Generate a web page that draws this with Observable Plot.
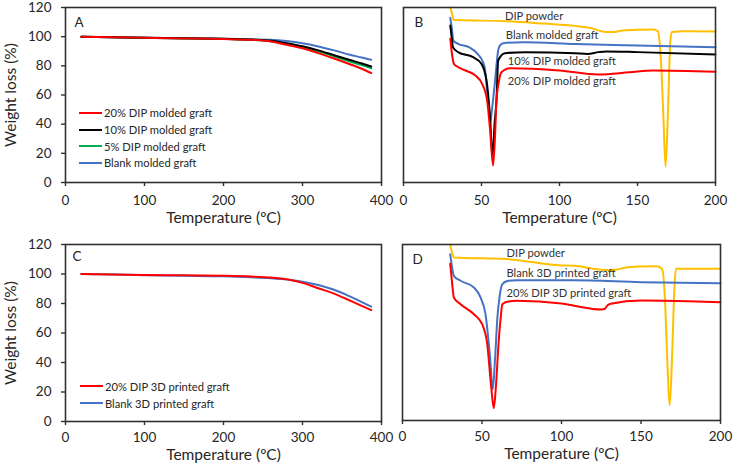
<!DOCTYPE html>
<html>
<head>
<meta charset="utf-8">
<script src="https://cdn.jsdelivr.net/npm/d3@7"></script>
<script src="https://cdn.jsdelivr.net/npm/@observablehq/plot@0.6"></script>
<style>
  body { margin: 0; background: #fff; }
  #wrap { position: relative; width: 734px; height: 468px; font-family: Lato, "Open Sans", sans-serif; overflow: hidden; }
  .panel { position: absolute; }
  .legend { position: absolute; font-family: Lato, sans-serif; font-size: 11.2px; color: #262626; }
  .legend .row { display: flex; align-items: center; white-space: nowrap; }
  .legend .sw { display: inline-block; width: 23px; height: 0; border-top: 2px solid; margin-right: 2px; }
</style>
</head>
<body>
<div id="wrap"></div>
<script>
// ---------- Panel A: TGA, molded grafts ----------
const tgaTempA   = [20, 60, 100, 150, 200, 235, 260, 280, 300, 320, 340, 360, 375, 387];
const tgaA20     = [100, 99.6, 99.2, 98.8, 98.4, 97.8, 96.7, 94.4, 92.0, 88.7, 85.0, 81.1, 78.0, 75.0];
const tgaA10     = [100, 99.6, 99.2, 98.9, 98.5, 98.0, 97.2, 95.5, 93.4, 90.6, 87.3, 84.0, 81.6, 79.5];
const tgaA5      = [100, 99.6, 99.2, 98.8, 98.4, 97.8, 96.9, 95.2, 93.0, 90.0, 86.5, 83.0, 80.5, 78.3];
const tgaABlank  = [100, 99.6, 99.3, 99.0, 98.6, 98.2, 97.9, 97.0, 95.5, 93.3, 90.6, 87.6, 85.7, 84.1];
const namesA     = ["20% DIP molded graft", "10% DIP molded graft", "5% DIP molded graft", "Blank molded graft"];

// ---------- Panel C: TGA, 3D printed grafts ----------
const tgaTempC   = [20, 60, 100, 150, 200, 235, 260, 285, 300, 320, 340, 355, 370, 387];
const tgaC20     = [100, 99.7, 99.4, 99.1, 98.8, 98.3, 97.6, 96.0, 94.0, 90.3, 86.7, 83.2, 79.6, 75.5];
const tgaCBlank  = [100, 99.6, 99.2, 98.8, 98.4, 97.8, 97.2, 96.0, 94.8, 92.6, 89.3, 86.0, 82.3, 77.9];
const namesC     = ["20% DIP 3D printed graft", "Blank 3D printed graft"];

// ---------- Panel B: DSC, molded grafts (heat flow, arbitrary units) ----------
const dscBPowderT = [30, 31, 32, 35, 66, 90, 110, 120, 130, 135, 140, 150, 160, 163, 165, 166.5, 168, 169.5, 171, 172, 180, 200];
const dscBPowderV = [100, 97, 93, 92.8, 92.2, 90.8, 89.5, 88.3, 86.0, 86.0, 86.8, 87.3, 87.4, 86.5, 70, 40, 9, 40, 80, 86.0, 86.4, 86.3];
const dscBBlankT  = [30, 31, 32, 35, 42, 47.5, 50, 52, 53.8, 55, 55.7, 56.5, 58.5, 60.7, 62, 63.9, 77, 110, 150, 200];
const dscBBlankV  = [94, 88, 81.1, 79.2, 77.3, 73.5, 70.5, 65.9, 50.7, 40, 34.5, 40, 56.4, 75.4, 78.5, 79.6, 80.2, 79.2, 78.3, 77.3];
const dscB10T     = [30, 31, 31.7, 35, 44.6, 50, 53.2, 55.5, 57, 58.5, 59.6, 60.7, 65, 78, 110, 118, 125, 130, 150, 200];
const dscB10V     = [89.7, 82, 77.3, 74.5, 71.6, 67.8, 58.3, 37, 15.4, 35, 46.9, 69.7, 73.9, 74.5, 73.9, 73.5, 74.5, 74.9, 74.5, 73.1];
const dscB20T     = [30, 31, 32.3, 35, 39.7, 46.1, 50.4, 53.6, 55.5, 57.4, 58.6, 59.6, 61, 62.8, 68.2, 100, 125, 145, 160, 200];
const dscB20V     = [82.1, 74, 67.8, 66, 64, 61.1, 56.4, 46.9, 30, 9.7, 25, 46.9, 57, 63, 65.3, 64, 61.7, 63, 64, 63.3];
const labelsB     = ["DIP powder", "Blank molded graft", "10% DIP molded graft", "20% DIP molded graft"];
const labelsBT    = [65, 65.6, 66.9, 66.9];
const labelsBV    = [94.9, 84, 69.1, 57.7];

// ---------- Panel D: DSC, 3D printed grafts ----------
const dscDPowderT = [30, 31, 32.3, 65.8, 100, 108, 120, 125, 130, 135, 140, 150, 160, 163.3, 165, 166.5, 168, 169.5, 171, 172, 200];
const dscDPowderV = [100, 96, 92.6, 91.7, 88.1, 87.9, 86.2, 85.6, 85.4, 85.8, 86.8, 87.5, 87.7, 86, 70, 35, 8.5, 35, 75, 86.2, 86.2];
const dscDBlankT  = [30, 31, 32.3, 36.5, 44.9, 49.1, 52.2, 54.9, 56.8, 58.2, 59.7, 61, 62.8, 66, 72, 108, 150, 200];
const dscDBlankV  = [94.5, 88, 82.2, 79.4, 75.6, 69.9, 60.4, 37.7, 17.8, 35, 58.7, 70, 77.5, 79.3, 79.7, 79.7, 78.6, 78];
const dscD20T     = [30, 31, 32.3, 36.5, 44.9, 50.1, 53.3, 55.8, 57.4, 58.8, 60.5, 61.8, 62.8, 66, 72, 100, 108, 125, 127, 129, 131, 150, 180, 200];
const dscD20V     = [89, 80, 69.9, 66.1, 60.4, 54.7, 43.4, 18.8, 7.0, 20, 45, 58.7, 66.1, 67.5, 68, 66.5, 65.2, 63.1, 63.3, 65.5, 66.3, 68.2, 67.8, 67.2];
const labelsD     = ["DIP powder", "Blank 3D printed graft", "20% DIP 3D printed graft"];
const labelsDT    = [65.4, 65.4, 65.4];
const labelsDV    = [94.9, 83.5, 72.2];

// ---------- axes ----------
const tgaXTicks = [0, 100, 200, 300, 400];
const tgaYTicks = [0, 20, 40, 60, 80, 100, 120];
const dscXTicks = [0, 50, 100, 150, 200];

const RED = "#ff0000", BLACK = "#000000", GREEN = "#00b050", BLUE = "#4472c4", YELLOW = "#ffc000";
const TXT = "#262626";

const toRows = (ts, vs) => ts.map((t, i) => ({t, v: vs[i]}));

function panel(o) {
  const marks = [];
  for (const s of o.series) {
    marks.push(Plot.line(toRows(s.t, s.v), {x: "t", y: "v", stroke: s.color, strokeWidth: 2, curve: "monotone-x"}));
  }
  marks.push(Plot.frame({stroke: "#303030", strokeWidth: 1.6}));
  marks.push(Plot.axisX({ticks: o.xTicks, tickSize: 4, tickPadding: o.xPad, label: null, tickFormat: d => String(d), stroke: "#303030", strokeWidth: 1.4, fontSize: 13.5}));
  if (o.yTicks) {
    marks.push(Plot.axisY({ticks: o.yTicks, tickSize: 4, tickPadding: 10, label: null, tickFormat: d => String(d), stroke: "#303030", strokeWidth: 1.4, fontSize: 13.5}));
    marks.push(Plot.text(["Weight loss (%)"], {text: d => d, frameAnchor: "left", dx: -54, rotate: -90, textAnchor: "middle", lineAnchor: "middle", fontSize: 15.5, fill: TXT}));
  }
  marks.push(Plot.text(["Temperature (ºC)"], {text: d => d, frameAnchor: "bottom", dy: o.titleDy, textAnchor: "middle", lineAnchor: "middle", fontSize: 15.5, fill: TXT}));
  marks.push(Plot.text([o.letter], {text: d => d, frameAnchor: "top-left", dx: o.letterDx, dy: o.letterDy, fontSize: 13.5, textAnchor: "start", lineAnchor: "middle", fill: TXT}));
  if (o.labels) {
    marks.push(Plot.text(o.labels.text.map((s, i) => ({s, t: o.labels.t[i], v: o.labels.v[i]})),
      {x: "t", y: "v", text: "s", textAnchor: "start", lineAnchor: "middle", fontSize: 11.2, fill: "#333"}));
  }
  const svg = Plot.plot({
    width: o.width, height: o.height,
    marginLeft: o.ml, marginRight: o.mr, marginTop: o.mt, marginBottom: o.mb,
    x: {domain: o.xDomain},
    y: o.yTicks ? {domain: o.yDomain} : {domain: o.yDomain, axis: null},
    style: {background: "transparent", overflow: "visible", fontFamily: "Lato, sans-serif", color: TXT},
    marks
  });
  const div = document.createElement("div");
  div.className = "panel";
  div.style.left = o.left + "px";
  div.style.top = o.top + "px";
  div.style.width = o.width + "px";
  div.style.height = o.height + "px";
  div.appendChild(svg);
  return div;
}

function legend(names, colorsList, left, top, rowH) {
  const div = document.createElement("div");
  div.className = "legend";
  div.style.left = left + "px";
  div.style.top = top + "px";
  names.forEach((n, i) => {
    const row = document.createElement("div");
    row.className = "row";
    row.style.height = rowH + "px";
    const sw = document.createElement("span");
    sw.className = "sw";
    sw.style.borderTopColor = colorsList[i];
    row.appendChild(sw);
    row.appendChild(document.createTextNode(n));
    div.appendChild(row);
  });
  return div;
}

const wrap = document.getElementById("wrap");

wrap.appendChild(panel({
  left: 0, top: 0, width: 400, height: 230, ml: 65, mr: 19, mt: 7, mb: 48,
  xDomain: [0, 400], yDomain: [0, 120], xTicks: tgaXTicks, yTicks: tgaYTicks, xPad: 9, titleDy: 36,
  letter: "A", letterDx: 9, letterDy: 15,
  series: [
    {t: tgaTempA, v: tgaABlank, color: BLUE},
    {t: tgaTempA, v: tgaA5, color: GREEN},
    {t: tgaTempA, v: tgaA10, color: BLACK},
    {t: tgaTempA, v: tgaA20, color: RED}
  ]
}));

wrap.appendChild(panel({
  left: 380, top: 0, width: 354, height: 230, ml: 23, mr: 19, mt: 7, mb: 48,
  xDomain: [0, 200], yDomain: [0, 100], xTicks: dscXTicks, yTicks: null, xPad: 9, titleDy: 36,
  letter: "B", letterDx: 11, letterDy: 15,
  labels: {text: labelsB, t: labelsBT, v: labelsBV},
  series: [
    {t: dscBPowderT, v: dscBPowderV, color: YELLOW},
    {t: dscBBlankT, v: dscBBlankV, color: BLUE},
    {t: dscB10T, v: dscB10V, color: BLACK},
    {t: dscB20T, v: dscB20V, color: RED}
  ]
}));

wrap.appendChild(panel({
  left: 0, top: 230, width: 400, height: 238, ml: 65, mr: 19, mt: 14, mb: 47,
  xDomain: [0, 400], yDomain: [0, 120], xTicks: tgaXTicks, yTicks: tgaYTicks, xPad: 7, titleDy: 34,
  letter: "C", letterDx: 7, letterDy: 12,
  series: [
    {t: tgaTempC, v: tgaCBlank, color: BLUE},
    {t: tgaTempC, v: tgaC20, color: RED}
  ]
}));

wrap.appendChild(panel({
  left: 380, top: 230, width: 354, height: 238, ml: 22, mr: 14, mt: 14, mb: 48,
  xDomain: [0, 200], yDomain: [0, 100], xTicks: dscXTicks, yTicks: null, xPad: 7, titleDy: 34,
  letter: "D", letterDx: 10, letterDy: 15,
  labels: {text: labelsD, t: labelsDT, v: labelsDV},
  series: [
    {t: dscDPowderT, v: dscDPowderV, color: YELLOW},
    {t: dscDBlankT, v: dscDBlankV, color: BLUE},
    {t: dscD20T, v: dscD20V, color: RED}
  ]
}));

wrap.appendChild(legend(namesA, [RED, BLACK, GREEN, BLUE], 79, 104.7, 16.6));
wrap.appendChild(legend(namesC, [RED, BLUE], 80, 377.4, 17.3));
</script>
</body>
</html>
